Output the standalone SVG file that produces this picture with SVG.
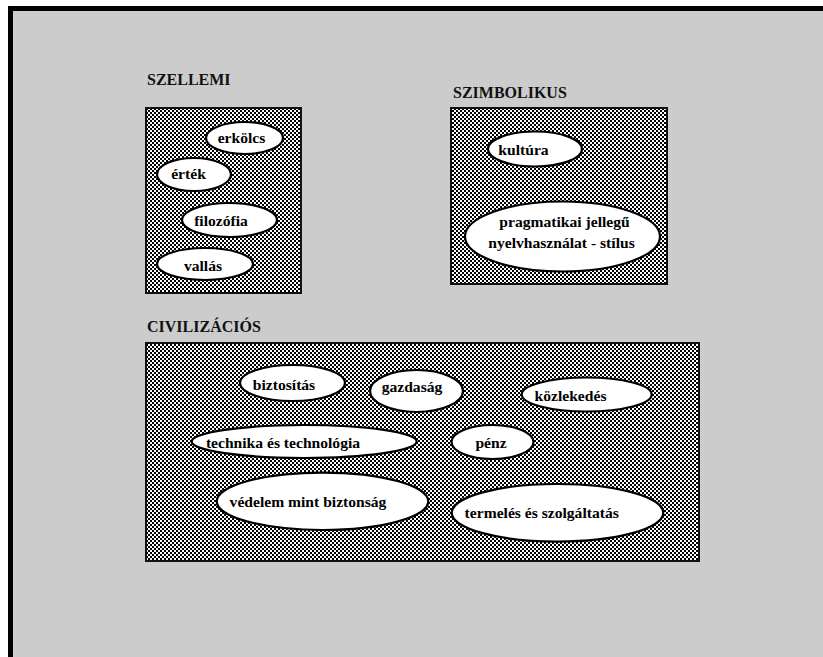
<svg xmlns="http://www.w3.org/2000/svg" width="823" height="657" viewBox="0 0 823 657">
<style>
text{font-family:'Liberation Serif','Times New Roman',Times,serif;font-weight:bold}
.t{font-size:15.6px;fill:#000;text-anchor:middle}
.h{font-size:16px;fill:#111}
.box{fill:url(#hatch);stroke:#111;stroke-width:2}
.el{fill:#fff;stroke:#000;stroke-width:2.2}
</style>
<defs>
<pattern id="hatch" width="4" height="4" patternUnits="userSpaceOnUse">
<rect width="4" height="4" fill="#000"/>
<rect x="0" y="0" width="2" height="2" fill="#fff"/>
<rect x="2" y="2" width="2" height="2" fill="#fff"/>
</pattern>
</defs>
<rect width="823" height="657" fill="#fff"/>
<rect x="8" y="6" width="815" height="651" fill="#cccccc"/>
<rect x="8" y="6" width="815" height="5" fill="#000"/>
<rect x="8" y="6" width="5" height="651" fill="#000"/>

<g id="szellemi">
<text class="h" x="147" y="85">SZELLEMI</text>
<rect class="box" x="146" y="108" width="155" height="185"/>
<g id="erkolcs"><ellipse class="el" cx="244.5" cy="138" rx="38.5" ry="16"/><text class="t" x="241.5" y="143">erkölcs</text></g>
<g id="ertek"><ellipse class="el" cx="194" cy="174.5" rx="37" ry="16.5"/><text class="t" x="188.5" y="179">érték</text></g>
<g id="filozofia"><ellipse class="el" cx="229.5" cy="220" rx="47.5" ry="17"/><text class="t" x="221" y="226">filozófia</text></g>
<g id="vallas"><ellipse class="el" cx="205" cy="264" rx="48" ry="16"/><text class="t" x="203" y="271">vallás</text></g>
</g>

<g id="szimbolikus">
<text class="h" x="453" y="97.5">SZIMBOLIKUS</text>
<rect class="box" x="451" y="108" width="216" height="176"/>
<g id="kultura"><ellipse class="el" cx="535" cy="149" rx="47" ry="17.5"/><text class="t" x="523.5" y="155">kultúra</text></g>
<g id="pragmatikai"><ellipse class="el" cx="562.5" cy="236.5" rx="97.5" ry="35"/><text class="t" x="564.5" y="227">pragmatikai jellegű</text><text class="t" x="561.5" y="248">nyelvhasználat - stílus</text></g>
</g>

<g id="civilizacios">
<text class="h" x="147" y="332">CIVILIZÁCIÓS</text>
<rect class="box" x="146" y="343" width="553" height="218"/>
<g id="biztositas"><ellipse class="el" cx="292.5" cy="383" rx="52.5" ry="18"/><text class="t" x="284" y="390">biztosítás</text></g>
<g id="gazdasag"><ellipse class="el" cx="416.5" cy="391" rx="46.5" ry="21"/><text class="t" x="412" y="392">gazdaság</text></g>
<g id="kozlekedes"><ellipse class="el" cx="586.7" cy="394.5" rx="65" ry="17"/><text class="t" x="570.5" y="401">közlekedés</text></g>
<g id="technika"><ellipse class="el" cx="304.2" cy="441.5" rx="112.5" ry="16.5"/><text class="t" x="283" y="448">technika és technológia</text></g>
<g id="penz"><ellipse class="el" cx="492.5" cy="442" rx="41" ry="17"/><text class="t" x="491" y="448">pénz</text></g>
<g id="vedelem"><ellipse class="el" cx="322.5" cy="501.3" rx="105.8" ry="28.7"/><text class="t" x="308" y="507">védelem mint biztonság</text></g>
<g id="termeles"><ellipse class="el" cx="557.5" cy="512.8" rx="105.8" ry="28.8"/><text class="t" x="541.7" y="517.5">termelés és szolgáltatás</text></g>
</g>
<g id="connectors"/>
</svg>
